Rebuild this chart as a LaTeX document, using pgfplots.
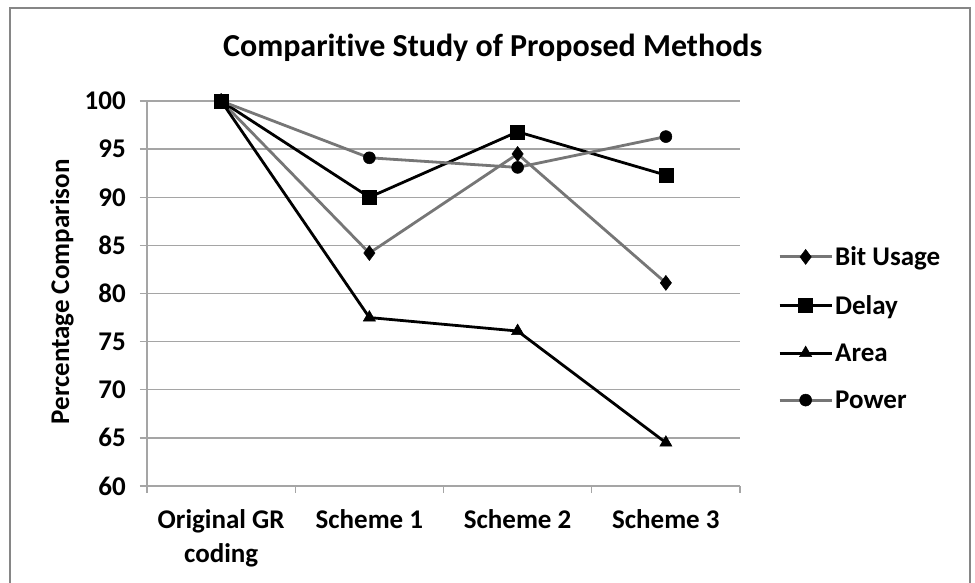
\documentclass[border=0pt]{standalone}
\usepackage{fontspec}
\setmainfont{Carlito}[Ligatures=NoCommon]
\usepackage{pgfplots}
\pgfplotsset{compat=1.18}
\definecolor{sergray}{RGB}{118,118,118}
\definecolor{gridgray}{RGB}{165,165,165}
\definecolor{framegray}{RGB}{134,134,134}
\begin{document}
\begin{tikzpicture}[x=1pt,y=1pt]
\path[use as bounding box] (0,0) rectangle (975,583);
\begin{scope}
\clip (0,0) rectangle (975,583);
\fill[white] (0,0) rectangle (975,583);
\draw[framegray, line width=1.5pt] (10,-10) rectangle (970,575);
\end{scope}
\begin{axis}[
 at={(147pt,97pt)}, anchor=south west,
 scale only axis, width=593pt, height=385pt,
 xmin=0, xmax=4, ymin=60, ymax=100,
 xtick={0.5,1.5,2.5,3.5},
 xticklabels={{Original GR\\coding},{Scheme 1},{Scheme 2},{Scheme 3}},
 minor xtick={0,1,2,3,4},
 ytick={60,65,...,100},
 yticklabels={60,65,70,75,80,85,90,95,100},
 axis lines*=left,
 axis line style={-, draw=gridgray, line width=1.3pt},
 tick pos=left,
 tick align=outside,
 major tick length=7pt,
 minor tick length=7pt,
 major x tick style={draw=none},
 minor x tick style={draw=gridgray, line width=1.3pt},
 ytick style={draw=gridgray, line width=1.3pt},
 ymajorgrids,
 major grid style={draw=gridgray, line width=1.3pt},
 ticklabel style={font=\fontsize{27}{34}\selectfont\bfseries, inner sep=0pt},
 xticklabel style={align=center, yshift=-16pt},
 yticklabel style={xshift=-14pt},
 title={Comparitive Study of Proposed Methods},
 title style={at={(0.583,1.122)}, anchor=center, font=\fontsize{32}{38}\selectfont\bfseries},
 ylabel={Percentage Comparison},
 every axis y label/.style={at={(axis description cs:-0.1433,0.504)}, rotate=90, anchor=center, font=\fontsize{27}{32}\selectfont\bfseries},
 legend style={at={(1.064,0.41)}, anchor=west, draw=none, fill=none, font=\fontsize{27}{32}\selectfont\bfseries, row sep=24pt, inner sep=0pt, nodes={inner sep=2pt}},
 legend cell align=left,
 legend image code/.code={%
   \draw[#1, mark=none, line width=3pt] (0pt,0pt) -- (52pt,0pt);
   \draw[#1, only marks] plot coordinates {(26pt,0pt)};},
 clip=false,
]
\addplot[sergray, line width=2.8pt, mark=diamond*, mark size=7.5pt, mark options={solid, fill=black, draw=black, line width=0.5pt}]
 coordinates {(0.5,100) (1.5,84.2) (2.5,94.5) (3.5,81.1)};
\addlegendentry{Bit Usage}
\addplot[black, line width=2.8pt, mark=square*, mark size=7pt, mark options={solid, fill=black, draw=black, line width=0.5pt}]
 coordinates {(0.5,100) (1.5,90.0) (2.5,96.8) (3.5,92.3)};
\addlegendentry{Delay}
\addplot[black, line width=2.8pt, mark=triangle*, mark size=7pt, mark options={solid, fill=black, draw=black, line width=0.5pt}]
 coordinates {(0.5,100) (1.5,77.5) (2.5,76.1) (3.5,64.5)};
\addlegendentry{Area}
\addplot[sergray, line width=2.8pt, mark=*, mark size=6pt, mark options={solid, fill=black, draw=black, line width=0.5pt}]
 coordinates {(0.5,100) (1.5,94.1) (2.5,93.1) (3.5,96.3)};
\addlegendentry{Power}
\end{axis}
\end{tikzpicture}
\end{document}
